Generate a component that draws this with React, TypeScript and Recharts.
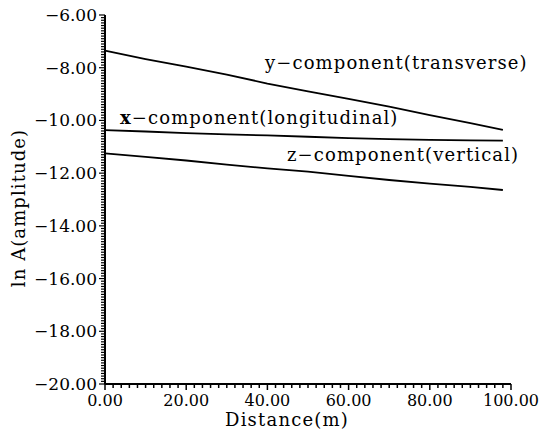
import { LineChart, Line, XAxis, YAxis } from 'recharts'

const distance = [0, 10, 20, 30, 40, 50, 60, 70, 80, 90, 98]
const yComponent = [-7.35, -7.67, -7.96, -8.26, -8.6, -8.9, -9.18, -9.48, -9.8, -10.1, -10.36]
const xComponent = [-10.37, -10.42, -10.48, -10.53, -10.57, -10.62, -10.67, -10.71, -10.74, -10.76, -10.77]
const zComponent = [-11.25, -11.38, -11.52, -11.68, -11.82, -11.94, -12.1, -12.26, -12.4, -12.52, -12.64]

const xMajorTicks = [0, 20, 40, 60, 80, 100]
const yMajorTicks = [-20, -18, -16, -14, -12, -10, -8, -6]

// minor ticks: every 2 m on x, every 0.1 on y
const xTicks: number[] = []
for (let i = 0; i <= 50; i++) xTicks.push(i * 2)
const yTicks: number[] = []
for (let i = 0; i <= 140; i++) yTicks.push(Math.round((-20 + i * 0.1) * 10) / 10)

const data = distance.map((d, i) => ({
  d,
  y: yComponent[i],
  x: xComponent[i],
  z: zComponent[i],
}))

const FONT = '"DejaVu Serif", serif'

function fmt(v: number) {
  const s = Math.abs(v).toFixed(2)
  return v < 0 ? `\u2212${s}` : s
}

function XTick({ x, y, payload }: any) {
  const major = xMajorTicks.includes(payload.value)
  return (
    <g>
      <line x1={x} y1={y} x2={x} y2={y + (major ? 6 : 4)} stroke="#000" strokeWidth={1.5} />
      {major && (
        <text x={x} y={y + 22} textAnchor="middle" fontSize={16} fontFamily={FONT} fill="#000">
          {payload.value.toFixed(2)}
        </text>
      )}
    </g>
  )
}

function YTick({ x, y, payload }: any) {
  const major = yMajorTicks.includes(payload.value)
  return (
    <g>
      <line x1={x} y1={y} x2={x - (major ? 6 : 4)} y2={y} stroke="#000" strokeWidth={1.2} />
      {major && (
        <text x={x - 8} y={y + 6} textAnchor="end" fontSize={17} fontFamily={FONT} fill="#000">
          {fmt(payload.value)}
        </text>
      )}
    </g>
  )
}

const labelStyle: React.CSSProperties = {
  position: 'absolute',
  fontFamily: FONT,
  fontSize: 18,
  whiteSpace: 'nowrap',
  lineHeight: '20px',
  letterSpacing: 1.1,
  color: '#000',
}

export default function App() {
  return (
    <div style={{ position: 'absolute', left: 0, top: 0, width: 543, height: 438, background: '#fff' }}>
      <LineChart width={543} height={438} data={data} margin={{ top: 15, right: 32, left: 0, bottom: 0 }}>
        <XAxis
          dataKey="d"
          type="number"
          domain={[0, 100]}
          ticks={xTicks}
          interval={0}
          tick={<XTick />}
          tickLine={false}
          tickSize={0}
          tickMargin={0}
          height={54}
          axisLine={{ stroke: '#000', strokeWidth: 2 }}
        />
        <YAxis
          type="number"
          domain={[-20, -6]}
          ticks={yTicks}
          interval={0}
          tick={<YTick />}
          tickLine={false}
          tickSize={0}
          tickMargin={0}
          width={105}
          axisLine={{ stroke: '#000', strokeWidth: 2 }}
        />
        <Line dataKey="y" stroke="#000" strokeWidth={1.8} dot={false} isAnimationActive={false} />
        <Line dataKey="x" stroke="#000" strokeWidth={1.8} dot={false} isAnimationActive={false} />
        <Line dataKey="z" stroke="#000" strokeWidth={1.8} dot={false} isAnimationActive={false} />
      </LineChart>
      <div style={{ ...labelStyle, left: 265, top: 53 }}>y{'\u2212'}component(transverse)</div>
      <div style={{ ...labelStyle, left: 120, top: 108 }}>
        <b>x</b>{'\u2212'}component(longitudinal)
      </div>
      <div style={{ ...labelStyle, left: 287, top: 145 }}>z{'\u2212'}component(vertical)</div>
      <div style={{ ...labelStyle, left: 225, top: 411, lineHeight: '18px', letterSpacing: 1.2 }}>Distance(m)</div>
      <div
        style={{
          ...labelStyle,
          left: 19,
          top: 208,
          transform: 'translate(-50%, -50%) rotate(-90deg)',
        }}
      >
        ln A(amplitude)
      </div>
    </div>
  )
}
